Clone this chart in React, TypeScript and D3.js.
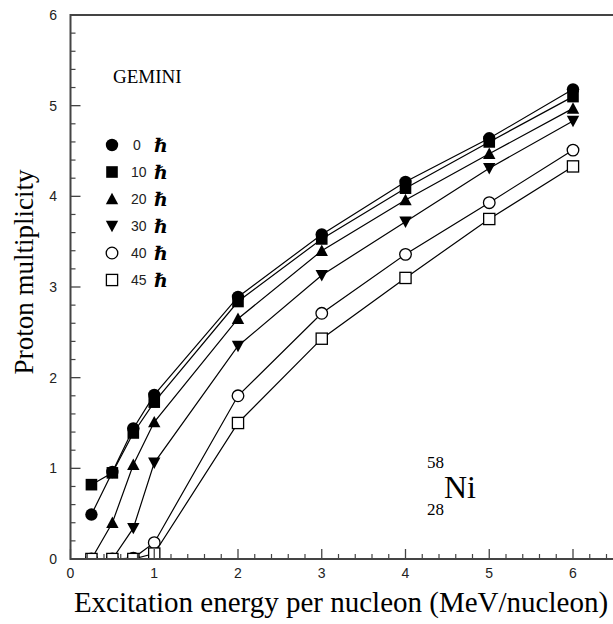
import React from "react";
import * as d3 from "d3";

const energies = [0.25, 0.5, 0.75, 1, 2, 3, 4, 5, 6];
const spin0 = [0.49, 0.96, 1.44, 1.81, 2.89, 3.58, 4.16, 4.64, 5.18];
const spin10 = [0.82, 0.95, 1.39, 1.73, 2.84, 3.53, 4.09, 4.6, 5.1];
const spin20 = [0, 0.4, 1.04, 1.51, 2.65, 3.4, 3.96, 4.47, 4.97];
const spin30 = [0, 0, 0.34, 1.06, 2.35, 3.13, 3.72, 4.31, 4.83];
const spin40 = [0, 0, 0.01, 0.18, 1.8, 2.71, 3.36, 3.93, 4.51];
const spin45 = [0, 0, 0, 0.06, 1.5, 2.43, 3.1, 3.75, 4.33];
const spinLabels = ["0", "10", "20", "30", "40", "45"];
const xTicks = [0, 1, 2, 3, 4, 5, 6];
const yTicks = [0, 1, 2, 3, 4, 5, 6];

type Sym = "circle" | "square" | "up" | "down" | "ocircle" | "osquare";
const series: { values: number[]; sym: Sym }[] = [
  { values: spin0, sym: "circle" },
  { values: spin10, sym: "square" },
  { values: spin20, sym: "up" },
  { values: spin30, sym: "down" },
  { values: spin40, sym: "ocircle" },
  { values: spin45, sym: "osquare" },
];

const W = 613;
const H = 624;
const x = d3.scaleLinear().domain([0, 6]).range([70.5, 573]);
const y = d3.scaleLinear().domain([0, 6]).range([559, 15]);
const xEnd = x(6.7);
const SERIF = "'Liberation Serif', 'Times New Roman', Times, serif";
const SANS = "'Liberation Sans', Arial, Helvetica, sans-serif";

function Marker({ sym, cx, cy }: { sym: Sym; cx: number; cy: number }) {
  const s = 6.2;
  switch (sym) {
    case "circle":
      return <circle cx={cx} cy={cy} r={6.2} fill="#000" />;
    case "square":
      return <rect x={cx - 5.8} y={cy - 5.8} width={11.6} height={11.6} fill="#000" />;
    case "up":
      return (
        <path d={`M${cx},${cy - s} L${cx + s},${cy + s * 0.85} L${cx - s},${cy + s * 0.85}Z`} fill="#000" />
      );
    case "down":
      return (
        <path d={`M${cx},${cy + s} L${cx + s},${cy - s * 0.85} L${cx - s},${cy - s * 0.85}Z`} fill="#000" />
      );
    case "ocircle":
      return <circle cx={cx} cy={cy} r={5.8} fill="#fff" stroke="#000" strokeWidth={1.3} />;
    case "osquare":
      return (
        <rect x={cx - 5.6} y={cy - 5.6} width={11.2} height={11.2} fill="#fff" stroke="#000" strokeWidth={1.3} />
      );
  }
}

export default function App() {
  const line = d3
    .line<number>()
    .x((_, i) => x(energies[i]))
    .y((v) => y(v));

  const minorX = d3.range(0, 6.61, 0.2).filter((v) => Math.abs(v - Math.round(v)) > 1e-6);
  const minorY = d3.range(0, 6.01, 0.2).filter((v) => Math.abs(v - Math.round(v)) > 1e-6);
  const axisColor = "#444";

  return (
    <svg
      width={W}
      height={H}
      style={{ position: "absolute", left: 0, top: 0, background: "#fff" }}
    >
      <defs>
        <clipPath id="plotclip">
          <rect x={0} y={0} width={W} height={y(0)} />
        </clipPath>
      </defs>
      <rect x={0} y={0} width={W} height={H} fill="#fff" />

      {/* lines and markers */}
      <g clipPath="url(#plotclip)">
        {series.map((s, i) => (
          <path key={i} d={line(s.values) || ""} fill="none" stroke="#000" strokeWidth={1.2} />
        ))}
        {series.map((s, i) => (
          <g key={i}>
            {s.values.map((v, j) => (
              <Marker key={j} sym={s.sym} cx={x(energies[j])} cy={y(v)} />
            ))}
          </g>
        ))}
      </g>

      {/* frame */}
      <line x1={x(0)} x2={x(0)} y1={y(6) - 1} y2={y(0) + 1} stroke={axisColor} strokeWidth={2} />
      <line x1={x(0)} x2={xEnd} y1={y(6)} y2={y(6)} stroke={axisColor} strokeWidth={2} />
      <line x1={x(0)} x2={xEnd} y1={y(0)} y2={y(0)} stroke={axisColor} strokeWidth={2} />

      {/* x ticks */}
      {xTicks.map((t) => (
        <line key={"xm" + t} x1={x(t)} x2={x(t)} y1={y(0)} y2={y(0) - 10} stroke={axisColor} strokeWidth={1.3} />
      ))}
      {minorX.map((t, i) => (
        <line key={"xn" + i} x1={x(t)} x2={x(t)} y1={y(0)} y2={y(0) - 5} stroke={axisColor} strokeWidth={1.2} />
      ))}
      {/* y ticks */}
      {yTicks.map((t) => (
        <line key={"ym" + t} x1={x(0)} x2={x(0) + 10} y1={y(t)} y2={y(t)} stroke={axisColor} strokeWidth={1.3} />
      ))}
      {minorY.map((t, i) => (
        <line key={"yn" + i} x1={x(0)} x2={x(0) + 5} y1={y(t)} y2={y(t)} stroke={axisColor} strokeWidth={1.2} />
      ))}

      {/* tick labels */}
      <g style={{ fontFamily: SANS }} fontSize={14} fill="#222">
        {xTicks.map((t) => (
          <text key={"xl" + t} x={x(t)} y={578} textAnchor="middle">
            {t}
          </text>
        ))}
        {yTicks.map((t) => (
          <text key={"yl" + t} x={57} y={y(t) + 5} textAnchor="end">
            {t}
          </text>
        ))}
      </g>

      {/* axis titles */}
      <text x={341} y={612} textAnchor="middle" fontSize={29} fill="#000" style={{ fontFamily: SERIF }}>
        Excitation energy per nucleon (MeV/nucleon)
      </text>
      <text
        transform={`translate(33,272) rotate(-90)`}
        textAnchor="middle"
        fontSize={27}
        fill="#000"
        style={{ fontFamily: SERIF }}
      >
        Proton multiplicity
      </text>

      {/* GEMINI */}
      <text x={113} y={83} fontSize={19} fill="#000" style={{ fontFamily: SERIF }}>
        GEMINI
      </text>

      {/* legend */}
      {series.map((s, i) => {
        const ly = 145 + i * 27;
        return (
          <g key={"lg" + i}>
            <Marker sym={s.sym} cx={112} cy={ly} />
            <text
              x={spinLabels[i].length === 1 ? 133 : 131}
              y={ly + 5}
              fontSize={14}
              fill="#222"
              style={{ fontFamily: SANS }}
            >
              {spinLabels[i]}
            </text>
            <text
              x={154}
              y={ly + 7}
              fontWeight="bold"
              fontSize={19}
              fill="#000"
              style={{ fontFamily: "'DejaVu Serif', serif" }}
            >
              ℏ
            </text>
          </g>
        );
      })}

      {/* nucleus label */}
      <g fill="#000" style={{ fontFamily: SERIF }}>
        <text x={427} y={468} fontSize={17}>
          58
        </text>
        <text x={444} y={498} fontSize={32}>
          Ni
        </text>
        <text x={427} y={515} fontSize={17}>
          28
        </text>
      </g>
    </svg>
  );
}
